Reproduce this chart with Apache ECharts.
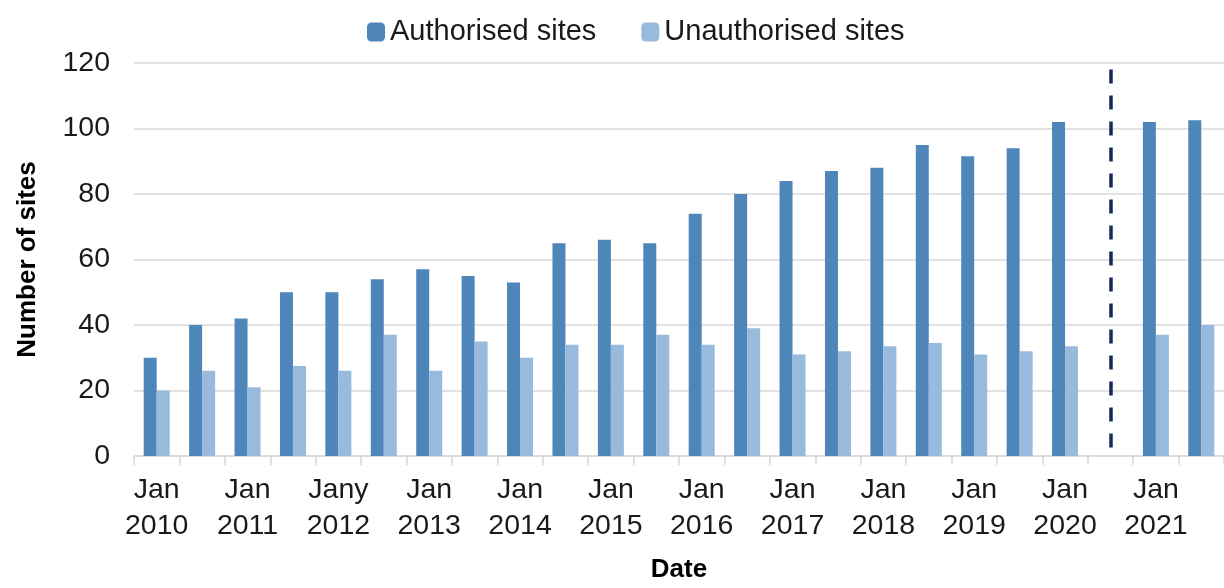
<!DOCTYPE html>
<html>
<head>
<meta charset="utf-8">
<title>Number of sites</title>
<script src="https://cdn.jsdelivr.net/npm/echarts@6/dist/echarts.min.js"></script>
<style>
    html, body { margin: 0; padding: 0; background: #ffffff; }
    #main-chart { width: 1224px; height: 588px; }
</style>
</head>
<body>
<div id="main-chart"></div>
<script>
// Datos (semestrales, Jul 2020 vacío)
const categories = [
    'Jan 2010', 'Jul 2010', 'Jan 2011', 'Jul 2011', 'Jany 2012', 'Jul 2012',
    'Jan 2013', 'Jul 2013', 'Jan 2014', 'Jul 2014', 'Jan 2015', 'Jul 2015',
    'Jan 2016', 'Jul 2016', 'Jan 2017', 'Jul 2017', 'Jan 2018', 'Jul 2018',
    'Jan 2019', 'Jul 2019', 'Jan 2020', 'Jul 2020', 'Jan 2021', 'Jul 2021'
];
const authorised = [30, 40, 42, 50, 50, 54, 57, 55, 53, 65, 66, 65, 74, 80, 84, 87, 88, 95, 91.5, 94, 102, null, 102, 102.5];
const unauthorised = [20, 26, 21, 27.5, 26, 37, 26, 35, 30, 34, 34, 37, 34, 39, 31, 32, 33.5, 34.5, 31, 32, 33.5, null, 37, 40];
const yTicks = { min: 0, max: 120, interval: 20 };
const breakCategory = 'Jul 2020';
const breakTop = 118;

const fontFamily = '"Liberation Sans", Arial, sans-serif';
const textColor = '#1a1a1a';
const gridColor = '#d9d9d9';

// Inicialización de ECharts
const mainChart = document.getElementById('main-chart');
let mainChartInstance = echarts.init(mainChart);

let option = {
    animation: false,
    textStyle: { fontFamily: fontFamily },
    legend: {
        left: 367,
        top: 17,
        padding: 0,
        itemWidth: 18,
        itemHeight: 19,
        itemGap: 45,
        textStyle: { fontSize: 29, color: textColor, fontFamily: fontFamily, lineHeight: 30 },
        data: ['Authorised sites', 'Unauthorised sites']
    },
    grid: {
        left: 134,
        right: -12,
        top: 63,
        bottom: 123,
        containLabel: false
    },
    xAxis: {
        type: 'category',
        data: categories,
        name: 'Date',
        nameLocation: 'middle',
        nameGap: 101,
        nameTextStyle: { fontSize: 26, fontWeight: 'bold', color: '#000000', fontFamily: fontFamily },
        axisLine: { lineStyle: { color: gridColor, width: 1.5 } },
        axisTick: { show: true, interval: 0, length: 9, lineStyle: { color: gridColor, width: 1.5 } },
        axisLabel: {
            interval: 1,
            margin: 16,
            fontSize: 28.5,
            lineHeight: 36,
            color: textColor,
            fontFamily: fontFamily,
            formatter: value => value.replace(' ', '\n')
        }
    },
    yAxis: {
        type: 'value',
        min: yTicks.min,
        max: yTicks.max,
        interval: yTicks.interval,
        name: 'Number of sites',
        nameLocation: 'middle',
        nameGap: 93,
        nameTextStyle: { fontSize: 26, fontWeight: 'bold', color: '#000000', fontFamily: fontFamily },
        axisLine: { show: false },
        axisTick: { show: false },
        axisLabel: { margin: 24, fontSize: 28.5, color: textColor, fontFamily: fontFamily },
        splitLine: { lineStyle: { color: gridColor, width: 1.5 } }
    },
    series: [
        {
            name: 'Authorised sites',
            type: 'bar',
            data: authorised,
            barWidth: 13,
            barGap: '0%',
            itemStyle: { color: '#4f86b9' }
        },
        {
            name: 'Unauthorised sites',
            type: 'bar',
            data: unauthorised,
            barWidth: 13,
            barGap: '0%',
            itemStyle: { color: '#97badd' }
        },
        // Línea discontinua de corte en el hueco de Jul 2020
        {
            name: 'break',
            type: 'line',
            data: [],
            silent: true,
            markLine: {
                silent: true,
                symbol: 'none',
                label: { show: false },
                lineStyle: { color: '#14285a', width: 3.5, type: [14, 12] },
                data: [[{ coord: [breakCategory, breakTop] }, { coord: [breakCategory, 0] }]]
            }
        }
    ]
};

mainChartInstance.setOption(option);
</script>
</body>
</html>
